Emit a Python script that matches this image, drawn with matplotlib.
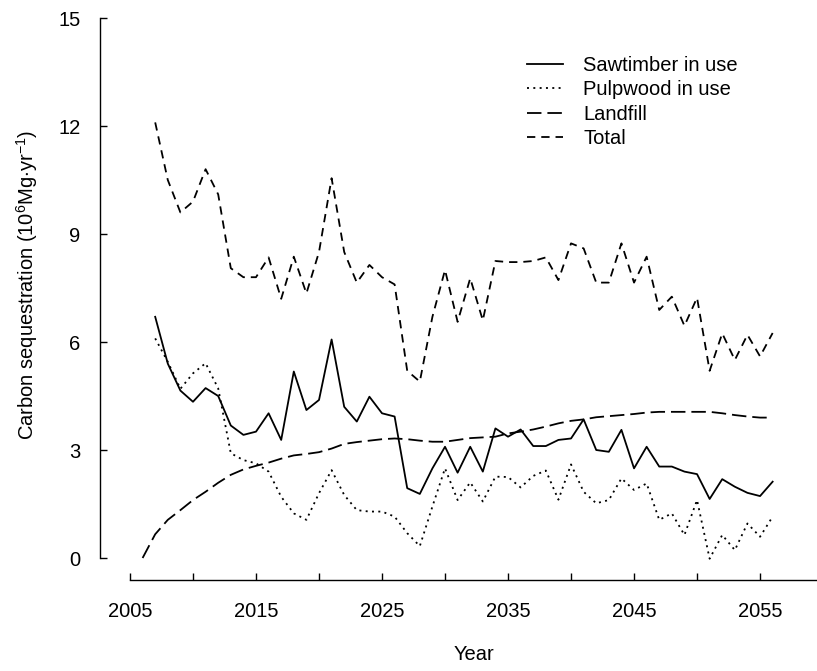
import matplotlib

matplotlib.use("Agg")
import matplotlib.pyplot as plt
import numpy as np

plt.rcParams["font.family"] = ["Liberation Sans", "DejaVu Sans"]
plt.rcParams["mathtext.fontset"] = "custom"
plt.rcParams["mathtext.rm"] = "Liberation Sans"

years = np.arange(2007, 2057)
landfill_years = np.arange(2006, 2057)

sawtimber = [
    6.70, 5.40, 4.65, 4.34, 4.72, 4.50, 3.68, 3.42, 3.51, 4.02,
    3.28, 5.18, 4.11, 4.39, 6.07, 4.20, 3.79, 4.48, 4.02, 3.93,
    1.94, 1.78, 2.49, 3.09, 2.37, 3.09, 2.40, 3.60, 3.37, 3.57,
    3.11, 3.11, 3.28, 3.32, 3.85, 3.00, 2.95, 3.56, 2.49, 3.09,
    2.54, 2.54, 2.40, 2.33, 1.64, 2.19, 1.98, 1.81, 1.72, 2.12,
]
pulpwood = [
    6.10, 5.45, 4.70, 5.13, 5.41, 4.71, 2.91, 2.72, 2.63, 2.40,
    1.70, 1.24, 1.06, 1.80, 2.44, 1.75, 1.33, 1.29, 1.29, 1.15,
    0.69, 0.33, 1.43, 2.49, 1.61, 2.10, 1.57, 2.26, 2.25, 1.96,
    2.28, 2.43, 1.62, 2.60, 1.84, 1.52, 1.61, 2.21, 1.89, 2.07,
    1.06, 1.24, 0.64, 1.61, -0.02, 0.64, 0.22, 0.96, 0.59, 1.15,
]
landfill = [
    0.00, 0.66, 1.06, 1.33, 1.61, 1.84, 2.09, 2.31, 2.46, 2.56,
    2.65, 2.76, 2.85, 2.89, 2.94, 3.04, 3.17, 3.22, 3.26, 3.30,
    3.32, 3.30, 3.26, 3.23, 3.23, 3.28, 3.33, 3.35, 3.37, 3.46,
    3.51, 3.57, 3.65, 3.74, 3.81, 3.85, 3.91, 3.94, 3.97, 4.00,
    4.04, 4.06, 4.06, 4.06, 4.06, 4.06, 4.02, 3.97, 3.93, 3.90,
    3.90,
]
total = [
    12.10, 10.50, 9.60, 9.90, 10.80, 10.10, 8.05, 7.80, 7.80, 8.35,
    7.20, 8.37, 7.35, 8.50, 10.55, 8.50, 7.65, 8.14, 7.80, 7.60,
    5.20, 4.90, 6.70, 8.00, 6.56, 7.77, 6.60, 8.25, 8.22, 8.22,
    8.25, 8.35, 7.72, 8.74, 8.60, 7.65, 7.65, 8.74, 7.65, 8.37,
    6.89, 7.26, 6.45, 7.23, 5.20, 6.24, 5.50, 6.20, 5.60, 6.25,
]

major_years = np.arange(2005, 2056, 10)
minor_years = np.arange(2010, 2056, 10)
y_ticks = np.arange(0, 16, 3)

fig = plt.figure(figsize=(8.17, 6.71), dpi=100)
ax = fig.add_axes([100 / 817, 91 / 671, 717 / 817, 562 / 671])

lw = 1.3
ax.plot(years, sawtimber, color="black", lw=lw, linestyle="-", label="Sawtimber in use")
ax.plot(years, pulpwood, color="black", lw=lw, linestyle=(0, (1.1, 2.4)), label="Pulpwood in use")
ax.plot(landfill_years, landfill, color="black", lw=lw, linestyle=(0, (8.0, 3.3)), label="Landfill")
ax.plot(years, total, color="black", lw=lw, linestyle=(0, (4.6, 3.3)), label="Total")

ax.set_xlim(2002.62, 2059.52)
ax.set_ylim(-0.611, 15.0)

for side in ("top", "right"):
    ax.spines[side].set_visible(False)
ax.spines["left"].set_bounds(0, 15)
ax.spines["bottom"].set_bounds(2005, 2059.52)
for side in ("left", "bottom"):
    ax.spines[side].set_linewidth(1.0)

ax.set_xticks(major_years)
ax.set_xticks(minor_years, minor=True)
ax.set_xticklabels([str(y) for y in major_years])
ax.set_yticks(y_ticks)
ax.set_yticklabels([str(v) for v in y_ticks])
ax.tick_params(axis="both", which="both", direction="in", length=5, width=1.0,
               labelsize=14.5, colors="black")
ax.tick_params(axis="x", pad=16)
ax.tick_params(axis="y", pad=14)

fig.text(27 / 817, 1 - 285 / 671,
         r"Carbon sequestration (10$^{6}$Mg$\cdot$yr$^{-1}$)",
         rotation=90, ha="center", va="center", fontsize=14.5)
fig.text(474 / 817, 1 - 655 / 671, "Year", ha="center", va="center", fontsize=14.5)

ax.legend(loc="upper left", bbox_to_anchor=((527 - 100) / 717, (580 - 56) / 562),
          frameon=False, fontsize=14.5, borderpad=0, borderaxespad=0,
          handlelength=1.8, handletextpad=1.0, labelspacing=0.27)

fig.savefig("out.png", dpi=100)
